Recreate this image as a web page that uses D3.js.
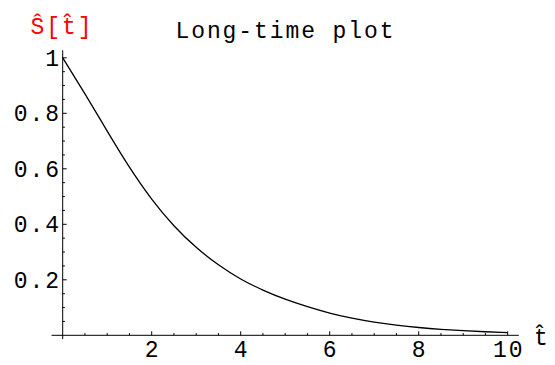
<!DOCTYPE html>
<html>
<head>
<meta charset="utf-8">
<script src="https://cdn.jsdelivr.net/npm/d3@7/dist/d3.min.js"></script>
<style>
  html, body { margin: 0; padding: 0; background: #fff; }
  svg { display: block; }
  text { font-family: "Liberation Mono", "DejaVu Sans Mono", monospace; }
</style>
</head>
<body>
<svg id="chart" width="555" height="365"></svg>
<script>
// Survival curve values, sampled every half time unit
const tValues = [0, 0.5, 1, 1.5, 2, 2.5, 3, 3.5, 4, 4.5, 5, 5.5, 6, 6.5, 7, 7.5, 8, 8.5, 9, 9.5, 10];
const sValues = [1.000, 0.870, 0.736, 0.606, 0.491, 0.395, 0.317, 0.254, 0.203, 0.163, 0.130, 0.103,
                 0.080, 0.0616, 0.0474, 0.0365, 0.0281, 0.0216, 0.0166, 0.0128, 0.0099];

const xTickLabels = [2, 4, 6, 8, 10];
const yTickLabels = [0.2, 0.4, 0.6, 0.8, 1];
const titleText = "Long-time plot";
const yAxisLabel = "\u015C[t\u0302]";
const xAxisLabel = "t\u0302";

const svg = d3.select("#chart");

const x = d3.scaleLinear().domain([0, 10]).range([62.7, 507.7]);
const y = d3.scaleLinear().domain([0, 1]).range([335.3, 57.8]);

const fontSize = 23;
const spacing = 1.9;

// Axis lines spanning the padded plot range
svg.append("line")
  .attr("x1", x(-0.25)).attr("x2", x(10.25))
  .attr("y1", y(0)).attr("y2", y(0))
  .attr("stroke", "#000").attr("stroke-width", 1);
svg.append("line")
  .attr("x1", x(0)).attr("x2", x(0))
  .attr("y1", y(-0.014)).attr("y2", y(1.027))
  .attr("stroke", "#000").attr("stroke-width", 1);

// x ticks: minor every 0.5, major every 2
const xMinor = d3.range(1, 21).map(i => i * 0.5);
svg.append("g").selectAll("line").data(xMinor).join("line")
  .attr("x1", d => x(d)).attr("x2", d => x(d))
  .attr("y1", y(0))
  .attr("y2", (d, i) => y(0) - ((i + 1) % 4 === 0 ? 4 : 2.2))
  .attr("stroke", "#000").attr("stroke-width", 1);

// y ticks: minor every 0.05, major every 0.2
const yMinor = d3.range(1, 21).map(i => i * 0.05);
svg.append("g").selectAll("line").data(yMinor).join("line")
  .attr("y1", d => y(d)).attr("y2", d => y(d))
  .attr("x1", x(0))
  .attr("x2", (d, i) => x(0) + ((i + 1) % 4 === 0 ? 4 : 2.2))
  .attr("stroke", "#000").attr("stroke-width", 1);

// tick labels
svg.append("g").selectAll("text").data(xTickLabels).join("text")
  .attr("x", d => x(d) + spacing / 2)
  .attr("y", 357)
  .attr("text-anchor", "middle")
  .attr("font-size", fontSize)
  .attr("letter-spacing", spacing)
  .text(d => d);

svg.append("g").selectAll("text").data(yTickLabels).join("text")
  .attr("x", 59 + spacing)
  .attr("y", d => y(d) + 8)
  .attr("text-anchor", "end")
  .attr("font-size", fontSize)
  .attr("letter-spacing", spacing)
  .text(d => d3.format("~g")(d));

// curve
const line = d3.line()
  .x((d, i) => x(tValues[i]))
  .y(d => y(d))
  .curve(d3.curveNatural);
svg.append("path")
  .datum(sValues)
  .attr("d", line)
  .attr("fill", "none")
  .attr("stroke", "#000")
  .attr("stroke-width", 1.3);

// title and axis labels
svg.append("text")
  .attr("x", 284.5 + spacing / 2).attr("y", 38)
  .attr("text-anchor", "middle")
  .attr("font-size", fontSize)
  .attr("letter-spacing", spacing)
  .text(titleText);

svg.append("text")
  .attr("x", 61 + spacing / 2).attr("y", 34)
  .attr("text-anchor", "middle")
  .attr("font-size", fontSize)
  .attr("letter-spacing", spacing)
  .attr("fill", "#ff0000")
  .text(yAxisLabel);

svg.append("text")
  .attr("x", 541).attr("y", 345)
  .attr("text-anchor", "middle")
  .attr("font-size", fontSize)
  .text(xAxisLabel);
</script>
</body>
</html>
